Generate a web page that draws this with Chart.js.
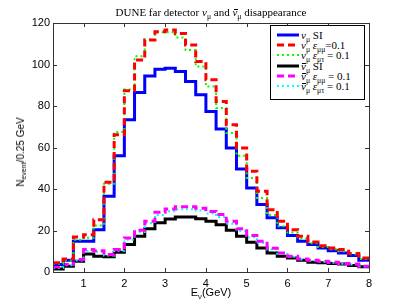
<!DOCTYPE html>
<html>
<head>
<meta charset="utf-8">
<script src="https://cdn.jsdelivr.net/npm/chart.js@4/dist/chart.umd.min.js"></script>
<style>
  body { margin: 0; background: #fff; }
  #wrap { position: relative; width: 407px; height: 306px; }
  #c { position: absolute; left: 0; top: 0; }
  .serif { font-family: "Liberation Serif", "DejaVu Serif", serif; color: #000; }
  .sans { font-family: "Liberation Sans", Arial, sans-serif; color: #000; }
  sub { font-size: 70%; vertical-align: -0.35em; line-height: 0; }
  .bar { position: relative; }
  .bar::before { content: ''; position: absolute; left: 0.12em; right: -0.02em; top: 0.3em; border-top: 0.07em solid #000; }
  #title { position: absolute; left: 53px; width: 316px; top: 5px; font-size: 11px; line-height: 14px; text-align: center; white-space: nowrap; }
  #xlab { position: absolute; left: 53px; width: 316px; top: 286px; font-size: 11px; line-height: 13px; text-align: center; }
  #ylab { position: absolute; left: 21px; top: 152px; font-size: 10px; line-height: 12px; white-space: nowrap;
          transform: translate(-50%, -50%) rotate(-90deg); }
  #legend { position: absolute; left: 270px; top: 25px; width: 93px; height: 69px; border: 1px solid #000;
            background: #fff; box-sizing: content-box; padding-top: 4px; }
  .row { height: 10.2px; line-height: 10.2px; font-size: 11px; white-space: nowrap; position: relative; }
  .row svg { position: absolute; left: 6px; top: 2px; }
  .row span.t { position: absolute; left: 30px; top: 0; }
</style>
</head>
<body>
<div id="wrap">
  <canvas id="c" width="407" height="306"></canvas>
  <div id="title" class="serif">DUNE far detector <i>ν</i><sub>μ</sub> and <i class="bar">ν</i><sub>μ</sub> disappearance</div>
  <div id="xlab" class="sans">E<sub>ν</sub>(GeV)</div>
  <div id="ylab" class="sans">N<sub>event</sub>/0.25 GeV</div>
  <div id="legend" class="serif"></div>
</div>
<script>
// bin edges in GeV (0.25 GeV bins)
const edges = [0.25,0.5,0.75,1,1.25,1.5,1.75,2,2.25,2.5,2.75,3,3.25,3.5,3.75,4,
               4.25,4.5,4.75,5,5.25,5.5,5.75,6,6.25,6.5,6.75,7,7.25,7.5,7.75,8];
const xTicks = [1,2,3,4,5,6,7,8];
const yTicks = [0,20,40,60,80,100,120];

// events per bin
const nuSI   = [3.6,5.7,14.8,14.8,20.4,36.5,56,73.4,86.5,94.5,97.7,98.2,96.6,91.8,85.4,77.3,
                68.9,59.7,49.6,40.5,32.5,26.1,21.3,17.6,14.8,13.2,11.6,10.3,9.2,7.9,5.7];
const nuMM   = [4.4,6.3,16.9,18,25.2,43.2,66.1,87.3,102.2,111.8,115.8,116.6,115,109.4,101.4,92.6,
                82.2,71,59.7,48.5,38.9,30,24.5,20.4,17.2,14.5,12.7,11.6,10.8,8.9,6.8];
const nuMT   = [4,5.5,15.5,16.5,22.4,42.5,67.5,88,104,112,115.5,115.5,113,107,99,89.4,
                79,67,56,45.3,35.7,27.5,22,19,16,13.8,12,11,10,8.5,6.3];
const antiSI = [1.5,2.8,5.2,8.7,7.6,7.3,9.5,13.2,17.2,20.9,23.7,25.6,26.5,26.5,25.7,24.4,
                22.8,20.1,17.2,14.3,11.6,9.2,7.6,6.8,5.7,4.7,4.4,4.1,3.8,3.1,2.5];
const antiMM = [2.5,3.6,6,10.8,10.3,8.4,10.8,16.4,20.1,24.4,28.8,30.4,31.4,31.4,30.7,29.2,
                27.7,24.4,20.8,17.6,14.8,11.5,9.2,7.6,6.3,5.7,5.2,4.7,4.1,3.8,2.8];
const antiMT = [2,3.2,5.5,10,9.8,8,10.3,15.5,19.3,23.5,27.5,29.3,30.2,30.3,29.6,28.2,
                26.5,23.3,19.8,16.8,14,10.8,8.8,7.3,6,5.4,5,4.5,4,3.6,2.7];

const nu = '<i>ν</i><sub>μ</sub>';
const nubar = '<i class="bar">ν</i><sub>μ</sub>';
const series = [
  { html: nu + ' SI', data: nuSI, color: '#0000ff', width: 3, dash: [], order: 3 },
  { html: nu + ' <i>ε</i><sub>μμ</sub>=0.1', data: nuMM, color: '#ff0000', width: 3, dash: [7,4], order: 1 },
  { html: nu + ' <i>ε</i><sub>μτ</sub> = 0.1', data: nuMT, color: '#00ff00', width: 2, dash: [2,3], order: 2 },
  { html: nubar + ' SI', data: antiSI, color: '#000000', width: 3, dash: [], order: 6 },
  { html: nubar + ' <i>ε</i><sub>μμ</sub> = 0.1', data: antiMM, color: '#ff00ff', width: 3, dash: [7,4], order: 4 },
  { html: nubar + ' <i>ε</i><sub>μτ</sub> = 0.1', data: antiMT, color: '#00ffff', width: 2, dash: [2,3], order: 5 }
];

// step histogram: value held from each lower edge, last value repeated at the upper edge
function steps(vals){
  const pts = vals.map((v,i) => ({ x: edges[i], y: v }));
  pts.push({ x: edges[edges.length-1], y: vals[vals.length-1] });
  return pts;
}

// legend
const legend = document.getElementById('legend');
series.forEach(s => {
  const row = document.createElement('div');
  row.className = 'row';
  row.innerHTML = `<svg width="22" height="6"><line x1="0" y1="3" x2="22" y2="3" stroke="${s.color}"
      stroke-width="${s.width}" stroke-dasharray="${s.dash.join(',') || 'none'}"/></svg><span class="t">${s.html}</span>`;
  legend.appendChild(row);
});

// frame with inward ticks on all four sides
const boxTicks = {
  id: 'boxTicks',
  afterDraw(chart){
    const { ctx, chartArea: a, scales: { x, y } } = chart;
    const len = 4;
    ctx.save();
    ctx.strokeStyle = '#333';
    ctx.lineWidth = 1;
    ctx.beginPath();
    x.ticks.forEach(t => {
      const px = Math.round(x.getPixelForValue(t.value)) + 0.5;
      ctx.moveTo(px, a.bottom); ctx.lineTo(px, a.bottom - len);
      ctx.moveTo(px, a.top); ctx.lineTo(px, a.top + len);
    });
    y.ticks.forEach(t => {
      const py = Math.round(y.getPixelForValue(t.value)) + 0.5;
      ctx.moveTo(a.left, py); ctx.lineTo(a.left + len, py);
      ctx.moveTo(a.right, py); ctx.lineTo(a.right - len, py);
    });
    ctx.stroke();
    ctx.strokeRect(Math.round(a.left) + 0.5, Math.round(a.top) + 0.5,
                   Math.round(a.right - a.left), Math.round(a.bottom - a.top));
    ctx.restore();
  }
};

new Chart(document.getElementById('c'), {
  type: 'line',
  data: {
    datasets: series.map(s => ({
      data: steps(s.data),
      borderColor: s.color,
      borderWidth: s.width,
      borderDash: s.dash,
      stepped: 'before',
      pointRadius: 0,
      fill: false,
      order: s.order
    }))
  },
  options: {
    responsive: false,
    animation: false,
    layout: { padding: { top: 23, right: 38, left: 0, bottom: 0 } },
    plugins: { legend: { display: false }, tooltip: { enabled: false } },
    scales: {
      x: {
        type: 'linear', min: 0.25, max: 8,
        afterBuildTicks: s => { s.ticks = xTicks.map(v => ({ value: v })); },
        afterFit: s => { s.height = 34; },
        grid: { display: false, drawTicks: false }, border: { display: false },
        ticks: { padding: 5, color: '#000', maxRotation: 0, font: { family: 'Liberation Sans', size: 11 } }
      },
      y: {
        min: 0, max: 120,
        afterBuildTicks: s => { s.ticks = yTicks.map(v => ({ value: v })); },
        afterFit: s => { s.width = 53; },
        grid: { display: false, drawTicks: false }, border: { display: false },
        ticks: { padding: 3, color: '#000', font: { family: 'Liberation Sans', size: 11 } }
      }
    }
  },
  plugins: [boxTicks]
});
</script>
</body>
</html>
